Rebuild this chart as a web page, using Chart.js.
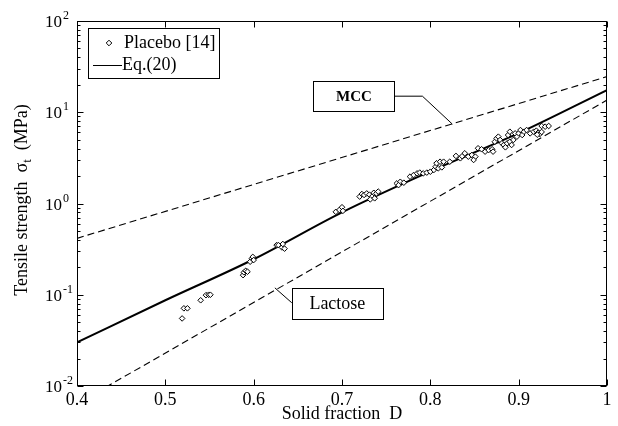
<!DOCTYPE html>
<html>
<head>
<meta charset="utf-8">
<script src="https://cdn.jsdelivr.net/npm/chart.js@4.4.0/dist/chart.umd.min.js"></script>
<style>
  html, body { margin: 0; padding: 0; background: #ffffff; }
  #wrap { width: 618px; height: 426px; }
</style>
</head>
<body>
<div id="wrap"><canvas id="chart" width="618" height="426"></canvas></div>
<script>
"use strict";

// Placebo [14] measurements (solid fraction D, tensile strength in MPa)
const placeboD = [
    0.519, 0.521, 0.525, 0.540, 0.546, 0.549, 0.551,
    0.588, 0.589, 0.591, 0.593, 0.596, 0.598, 0.599, 0.600,
    0.626, 0.628, 0.632, 0.633, 0.635,
    0.693, 0.697, 0.700, 0.701,
    0.720, 0.7225, 0.725, 0.728, 0.731, 0.734, 0.736, 0.739, 0.741, 0.732, 0.737,
    0.762, 0.766, 0.770, 0.764,
    0.777, 0.781, 0.785, 0.788, 0.792, 0.796, 0.800, 0.804, 0.806, 0.807, 0.811, 0.809, 0.813, 0.815,
    0.822, 0.829, 0.834, 0.839, 0.836, 0.839, 0.843, 0.847, 0.851, 0.849, 0.854, 0.858,
    0.862, 0.866, 0.870, 0.871, 0.873, 0.875, 0.877, 0.879, 0.881,
    0.883, 0.887, 0.885, 0.890, 0.892, 0.894, 0.888, 0.890, 0.896, 0.898, 0.900, 0.902, 0.904, 0.906, 0.909, 0.913, 0.917,
    0.920, 0.922, 0.924, 0.926, 0.921, 0.926, 0.930, 0.934
];
const placeboSigma = [
    0.055, 0.071, 0.071, 0.087, 0.099, 0.100, 0.100,
    0.164, 0.176, 0.183, 0.179, 0.23, 0.25, 0.26, 0.24,
    0.35, 0.35, 0.33, 0.36, 0.32,
    0.81, 0.85, 0.91, 0.83,
    1.19, 1.27, 1.24, 1.29, 1.25, 1.19, 1.31, 1.29, 1.35, 1.11, 1.14,
    1.66, 1.73, 1.69, 1.59,
    1.97, 2.05, 2.14, 2.18, 2.14, 2.18, 2.23, 2.33, 2.53, 2.76, 2.87, 2.43, 2.49, 2.87,
    2.87, 3.32, 3.13, 3.40, 3.30, 3.55, 3.26, 3.40, 3.26, 3.00, 4.03, 3.93,
    3.70, 3.85, 3.93, 3.70, 4.75, 5.17, 5.40, 4.97, 4.57,
    4.38, 4.57, 4.13, 4.75, 4.38, 4.97, 5.63, 6.12, 5.87, 5.40, 5.87, 6.38, 5.63, 6.12, 6.38, 5.87, 6.12,
    6.28, 5.97, 5.78, 6.08, 5.68, 7.07, 6.95, 7.07
];

// Eq.(20) curve
const eqD = [0.4, 0.5, 0.6, 0.7, 0.8, 0.9, 1.0];
const eqSigma = [0.030, 0.087, 0.245, 0.80, 2.25, 5.9, 17.5];

// Reference lines
const mccD = [0.4, 1.0];
const mccSigma = [0.415, 24.6];
const lactoseD = [0.4, 1.0];
const lactoseSigma = [0.0064, 13.6];

// Axes
const xTickValues = [0.4, 0.5, 0.6, 0.7, 0.8, 0.9, 1.0];
const xTickLabels = ["0.4", "0.5", "0.6", "0.7", "0.8", "0.9", "1"];
const yTickExponents = [-2, -1, 0, 1, 2];

// Annotation anchors (point on the line that the callout points to)
const mccAnchor = { x: 0.825, y: 7.4 };
const lactoseAnchor = { x: 0.624, y: 0.119 };

const serif = "'Liberation Serif', 'Times New Roman', serif";

function toPoints(xs, ys) {
    return xs.map((x, i) => ({ x, y: ys[i] }));
}

function drawDiamond(ctx, x, y, r) {
    ctx.beginPath();
    ctx.moveTo(x, y - r);
    ctx.lineTo(x + r, y);
    ctx.lineTo(x, y + r);
    ctx.lineTo(x - r, y);
    ctx.closePath();
    ctx.fillStyle = "#ffffff";
    ctx.fill();
    ctx.lineWidth = 1;
    ctx.strokeStyle = "#000000";
    ctx.stroke();
}

const framePlugin = {
    id: "frame",
    afterDraw(chart) {
        const { ctx, chartArea: area } = chart;
        const xs = chart.scales.x;
        const ys = chart.scales.y;

        ctx.save();
        ctx.strokeStyle = "#000000";
        ctx.lineWidth = 1;

        // box
        const l = Math.round(area.left) + 0.5;
        const t = Math.round(area.top) + 0.5;
        const r = Math.round(area.right) - 0.5;
        const b = Math.round(area.bottom) - 0.5;
        ctx.strokeRect(l, t, r - l, b - t);

        // inward ticks
        ctx.beginPath();
        for (const v of xTickValues) {
            const px = Math.round(xs.getPixelForValue(v)) + 0.5;
            ctx.moveTo(px, b); ctx.lineTo(px, b - 6);
            ctx.moveTo(px, t); ctx.lineTo(px, t + 6);
        }
        yTickExponents.forEach((e, i) => {
            for (let m = 1; m <= 9; m++) {
                if (m > 1 && i === yTickExponents.length - 1) break;
                const py = Math.round(ys.getPixelForValue(m * Math.pow(10, e))) + 0.5;
                const len = m === 1 ? 6 : 3;
                ctx.moveTo(l, py); ctx.lineTo(l + len, py);
                ctx.moveTo(r, py); ctx.lineTo(r - len, py);
            }
        });
        ctx.stroke();

        // y tick labels 10^n
        ctx.fillStyle = "#000000";
        ctx.textBaseline = "alphabetic";
        ctx.textAlign = "left";
        for (const e of yTickExponents) {
            const py = ys.getPixelForValue(Math.pow(10, e));
            ctx.font = "17px " + serif;
            ctx.fillText("10", 45, py + 6);
            const w = ctx.measureText("10").width;
            ctx.font = "12px " + serif;
            ctx.fillText(String(e), 45 + w + 1, py - 2);
        }

        // y axis title
        ctx.save();
        ctx.translate(22, 200);
        ctx.rotate(-Math.PI / 2);
        const parts = [
            { text: "Tensile strength  \u03c3", size: 18, dy: 0 },
            { text: "t", size: 13, dy: 4 },
            { text: "  (MPa)", size: 18, dy: 0 }
        ];
        let total = 0;
        for (const p of parts) {
            ctx.font = p.size + "px " + serif;
            p.w = ctx.measureText(p.text).width;
            total += p.w;
        }
        let cx = -total / 2;
        for (const p of parts) {
            ctx.font = p.size + "px " + serif;
            ctx.fillText(p.text, cx, 5 + p.dy);
            cx += p.w;
        }
        ctx.restore();

        // callouts
        const mx = xs.getPixelForValue(mccAnchor.x);
        const my = ys.getPixelForValue(mccAnchor.y);
        const mBox = { x: mx - 139, y: my - 43, w: 81, h: 30 };
        ctx.beginPath();
        ctx.moveTo(mx, my);
        ctx.lineTo(mBox.x + mBox.w + 28, mBox.y + mBox.h / 2);
        ctx.lineTo(mBox.x + mBox.w, mBox.y + mBox.h / 2);
        ctx.stroke();
        ctx.fillStyle = "#ffffff";
        ctx.fillRect(mBox.x, mBox.y, mBox.w, mBox.h);
        ctx.strokeRect(Math.round(mBox.x) + 0.5, Math.round(mBox.y) + 0.5, mBox.w, mBox.h);
        ctx.fillStyle = "#000000";
        ctx.font = "bold 15px " + serif;
        ctx.textAlign = "center";
        ctx.textBaseline = "middle";
        ctx.fillText("MCC", mBox.x + mBox.w / 2, mBox.y + mBox.h / 2 + 1);

        const lx = xs.getPixelForValue(lactoseAnchor.x);
        const ly = ys.getPixelForValue(lactoseAnchor.y);
        const lBox = { x: lx + 17, y: ly, w: 91, h: 31 };
        ctx.beginPath();
        ctx.moveTo(lx, ly);
        ctx.lineTo(lBox.x, ly + 15);
        ctx.stroke();
        ctx.fillStyle = "#ffffff";
        ctx.fillRect(lBox.x, lBox.y, lBox.w, lBox.h);
        ctx.strokeRect(Math.round(lBox.x) + 0.5, Math.round(lBox.y) + 0.5, lBox.w, lBox.h);
        ctx.fillStyle = "#000000";
        ctx.font = "18px " + serif;
        ctx.fillText("Lactose", lBox.x + lBox.w / 2, lBox.y + lBox.h / 2 + 1);

        // legend
        const lg = { x: 88.5, y: 28.5, w: 131, h: 50 };
        ctx.fillStyle = "#ffffff";
        ctx.fillRect(lg.x, lg.y, lg.w, lg.h);
        ctx.strokeRect(lg.x, lg.y, lg.w, lg.h);
        drawDiamond(ctx, 109, 43, 2.8);
        ctx.beginPath();
        ctx.lineWidth = 1;
        ctx.moveTo(93, 65.5);
        ctx.lineTo(122, 65.5);
        ctx.stroke();
        ctx.fillStyle = "#000000";
        ctx.font = "18px " + serif;
        ctx.textAlign = "left";
        ctx.textBaseline = "middle";
        ctx.fillText("Placebo [14]", 124, 43);
        ctx.fillText("Eq.(20)", 122, 65);

        ctx.restore();
    }
};

new Chart(document.getElementById("chart"), {
    type: "scatter",
    data: {
        datasets: [
            {
                label: "Placebo [14]",
                data: toPoints(placeboD, placeboSigma),
                pointStyle: "rectRot",
                pointRadius: 2.8,
                pointBorderWidth: 1,
                pointBackgroundColor: "#ffffff",
                pointBorderColor: "#000000",
                showLine: false
            },
            {
                label: "Eq.(20)",
                data: toPoints(eqD, eqSigma),
                showLine: true,
                borderColor: "#000000",
                borderWidth: 2,
                pointRadius: 0,
                cubicInterpolationMode: "monotone"
            },
            {
                label: "MCC",
                data: toPoints(mccD, mccSigma),
                showLine: true,
                borderColor: "#000000",
                borderWidth: 1.1,
                borderDash: [7, 4],
                pointRadius: 0
            },
            {
                label: "Lactose",
                data: toPoints(lactoseD, lactoseSigma),
                showLine: true,
                borderColor: "#000000",
                borderWidth: 1.1,
                borderDash: [7, 4],
                pointRadius: 0
            }
        ]
    },
    options: {
        responsive: false,
        animation: false,
        devicePixelRatio: 1,
        layout: { padding: { top: 21, right: 11, left: 0, bottom: 0 } },
        scales: {
            x: {
                type: "linear",
                min: 0.4,
                max: 1,
                afterBuildTicks: (scale) => {
                    scale.ticks = xTickValues.map((v) => ({ value: v }));
                },
                afterFit: (scale) => { scale.height = 40; },
                grid: { display: false, drawTicks: false },
                border: { display: false },
                ticks: {
                    color: "#000000",
                    padding: 3,
                    maxRotation: 0,
                    font: { family: serif, size: 18 },
                    callback: (value, index) => xTickLabels[index]
                },
                title: {
                    display: true,
                    text: "Solid fraction  D",
                    color: "#000000",
                    font: { family: serif, size: 18 },
                    padding: { top: 0, bottom: 1 }
                }
            },
            y: {
                type: "logarithmic",
                min: 0.01,
                max: 100,
                afterFit: (scale) => { scale.width = 77; },
                grid: { display: false, drawTicks: false },
                border: { display: false },
                ticks: { display: false }
            }
        },
        plugins: {
            legend: { display: false },
            tooltip: { enabled: false }
        }
    },
    plugins: [framePlugin]
});
</script>
</body>
</html>
